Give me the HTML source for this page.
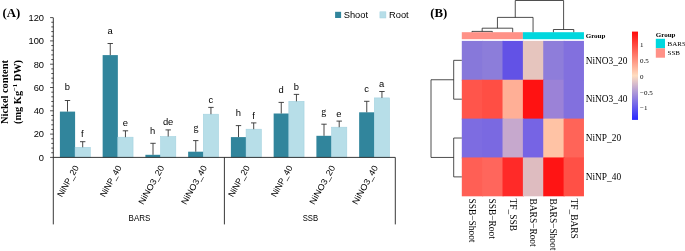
<!DOCTYPE html><html><head><meta charset="utf-8"><title>fig</title><style>html,body{margin:0;padding:0;background:#fff}svg{display:block;will-change:transform}text{font-family:"Liberation Sans",sans-serif;fill:#000}.s{font-family:"Liberation Serif",serif}</style></head><body>
<svg width="685" height="251" viewBox="0 0 685 251">
<rect width="685" height="251" fill="#fff"/>
<text class="s" x="2.5" y="16.8" font-size="12.8" font-weight="bold">(A)</text>
<text class="s" font-size="10.4" font-weight="bold" text-anchor="middle" transform="translate(8.2,92) rotate(-90)">Nickel content</text>
<text class="s" font-size="10.4" font-weight="bold" text-anchor="middle" transform="translate(21,92) rotate(-90)">(mg Kg<tspan font-size="6.5" dy="-4">−1</tspan><tspan dy="4"> DW)</tspan></text>
<rect x="59.90" y="111.6" width="15.2" height="45.80" fill="#31859c"/>
<rect x="75.10" y="147.3" width="15.2" height="10.10" fill="#b7dee8" stroke="#a3d2e0" stroke-width="0.6"/>
<path d="M67.50 111.6V100.5M64.80 100.5H70.20" stroke="#333" stroke-width="0.9" fill="none"/>
<path d="M82.70 147.3V141.7M80.00 141.7H85.40" stroke="#333" stroke-width="0.9" fill="none"/>
<rect x="102.65" y="55.1" width="15.2" height="102.30" fill="#31859c"/>
<rect x="117.85" y="137.2" width="15.2" height="20.20" fill="#b7dee8" stroke="#a3d2e0" stroke-width="0.6"/>
<path d="M110.25 55.1V43.5M107.55 43.5H112.95" stroke="#333" stroke-width="0.9" fill="none"/>
<path d="M125.45 137.2V130.8M122.75 130.8H128.15" stroke="#333" stroke-width="0.9" fill="none"/>
<rect x="145.40" y="154.8" width="15.2" height="2.60" fill="#31859c"/>
<rect x="160.60" y="136.5" width="15.2" height="20.90" fill="#b7dee8" stroke="#a3d2e0" stroke-width="0.6"/>
<path d="M153.00 154.8V143.3M150.30 143.3H155.70" stroke="#333" stroke-width="0.9" fill="none"/>
<path d="M168.20 136.5V129.9M165.50 129.9H170.90" stroke="#333" stroke-width="0.9" fill="none"/>
<rect x="188.15" y="151.7" width="15.2" height="5.70" fill="#31859c"/>
<rect x="203.35" y="114.2" width="15.2" height="43.20" fill="#b7dee8" stroke="#a3d2e0" stroke-width="0.6"/>
<path d="M195.75 151.7V140.6M193.05 140.6H198.45" stroke="#333" stroke-width="0.9" fill="none"/>
<path d="M210.95 114.2V107.4M208.25 107.4H213.65" stroke="#333" stroke-width="0.9" fill="none"/>
<rect x="230.90" y="137.1" width="15.2" height="20.30" fill="#31859c"/>
<rect x="246.10" y="129.2" width="15.2" height="28.20" fill="#b7dee8" stroke="#a3d2e0" stroke-width="0.6"/>
<path d="M238.50 137.1V125.6M235.80 125.6H241.20" stroke="#333" stroke-width="0.9" fill="none"/>
<path d="M253.70 129.2V122.9M251.00 122.9H256.40" stroke="#333" stroke-width="0.9" fill="none"/>
<rect x="273.65" y="113.5" width="15.2" height="43.90" fill="#31859c"/>
<rect x="288.85" y="101.3" width="15.2" height="56.10" fill="#b7dee8" stroke="#a3d2e0" stroke-width="0.6"/>
<path d="M281.25 113.5V102.4M278.55 102.4H283.95" stroke="#333" stroke-width="0.9" fill="none"/>
<path d="M296.45 101.3V94.4M293.75 94.4H299.15" stroke="#333" stroke-width="0.9" fill="none"/>
<rect x="316.40" y="135.8" width="15.2" height="21.60" fill="#31859c"/>
<rect x="331.60" y="127.2" width="15.2" height="30.20" fill="#b7dee8" stroke="#a3d2e0" stroke-width="0.6"/>
<path d="M324.00 135.8V124.2M321.30 124.2H326.70" stroke="#333" stroke-width="0.9" fill="none"/>
<path d="M339.20 127.2V121.1M336.50 121.1H341.90" stroke="#333" stroke-width="0.9" fill="none"/>
<rect x="359.15" y="112.3" width="15.2" height="45.10" fill="#31859c"/>
<rect x="374.35" y="97.9" width="15.2" height="59.50" fill="#b7dee8" stroke="#a3d2e0" stroke-width="0.6"/>
<path d="M366.75 112.3V101.3M364.05 101.3H369.45" stroke="#333" stroke-width="0.9" fill="none"/>
<path d="M381.95 97.9V91.5M379.25 91.5H384.65" stroke="#333" stroke-width="0.9" fill="none"/>
<text x="67.4" y="90.2" font-size="9.4" text-anchor="middle">b</text>
<text x="82.4" y="136.9" font-size="9.4" text-anchor="middle">f</text>
<text x="110" y="34" font-size="9.4" text-anchor="middle">a</text>
<text x="125.4" y="126.1" font-size="9.4" text-anchor="middle">e</text>
<text x="152.5" y="133.8" font-size="9.4" text-anchor="middle">h</text>
<text x="168.1" y="125.4" font-size="9.4" text-anchor="middle">de</text>
<text class="s" x="196" y="130.6" font-size="10" text-anchor="middle">g</text>
<text x="210.8" y="103.4" font-size="9.4" text-anchor="middle">c</text>
<text x="238.3" y="115.6" font-size="9.4" text-anchor="middle">h</text>
<text x="253.5" y="118.8" font-size="9.4" text-anchor="middle">f</text>
<text x="281.1" y="92.9" font-size="9.4" text-anchor="middle">d</text>
<text x="296.4" y="90.2" font-size="9.4" text-anchor="middle">b</text>
<text class="s" x="323.7" y="114.7" font-size="10" text-anchor="middle">g</text>
<text x="338.9" y="116.7" font-size="9.4" text-anchor="middle">e</text>
<text x="366.5" y="91.7" font-size="9.4" text-anchor="middle">c</text>
<text x="381.7" y="87.2" font-size="9.4" text-anchor="middle">a</text>
<path d="M53.3 17.8V224.4M53.3 157.4H395.3M224.4 157.4V224.4M395.3 157.4V224.4" stroke="#222" stroke-width="0.9" fill="none"/>
<path d="M50.1 157.40H53.3M51.3 152.74H53.3M51.3 148.08H53.3M51.3 143.42H53.3M51.3 138.76H53.3M50.1 134.10H53.3M51.3 129.44H53.3M51.3 124.78H53.3M51.3 120.12H53.3M51.3 115.46H53.3M50.1 110.80H53.3M51.3 106.14H53.3M51.3 101.48H53.3M51.3 96.82H53.3M51.3 92.16H53.3M50.1 87.50H53.3M51.3 82.84H53.3M51.3 78.18H53.3M51.3 73.52H53.3M51.3 68.86H53.3M50.1 64.20H53.3M51.3 59.54H53.3M51.3 54.88H53.3M51.3 50.22H53.3M51.3 45.56H53.3M50.1 40.90H53.3M51.3 36.24H53.3M51.3 31.58H53.3M51.3 26.92H53.3M51.3 22.26H53.3M50.1 17.60H53.3" stroke="#222" stroke-width="0.8" fill="none"/>
<text x="44" y="160.70" font-size="9.3" text-anchor="end">0</text>
<text x="44" y="137.40" font-size="9.3" text-anchor="end">20</text>
<text x="44" y="114.10" font-size="9.3" text-anchor="end">40</text>
<text x="44" y="90.80" font-size="9.3" text-anchor="end">60</text>
<text x="44" y="67.50" font-size="9.3" text-anchor="end">80</text>
<text x="44" y="44.20" font-size="9.3" text-anchor="end">100</text>
<text x="44" y="20.90" font-size="9.3" text-anchor="end">120</text>
<text font-size="8.7" text-anchor="end" transform="translate(79.08,167.6) rotate(-60.5)">NiNP_20</text>
<text font-size="8.7" text-anchor="end" transform="translate(121.83,167.6) rotate(-60.5)">NiNP_40</text>
<text font-size="8.7" text-anchor="end" textLength="43.2" lengthAdjust="spacingAndGlyphs" transform="translate(164.58,167.6) rotate(-60.5)">NiNO3_20</text>
<text font-size="8.7" text-anchor="end" textLength="43.2" lengthAdjust="spacingAndGlyphs" transform="translate(207.33,167.6) rotate(-60.5)">NiNO3_40</text>
<text font-size="8.7" text-anchor="end" transform="translate(250.08,167.6) rotate(-60.5)">NiNP_20</text>
<text font-size="8.7" text-anchor="end" transform="translate(292.82,167.6) rotate(-60.5)">NiNP_40</text>
<text font-size="8.7" text-anchor="end" textLength="43.2" lengthAdjust="spacingAndGlyphs" transform="translate(335.57,167.6) rotate(-60.5)">NiNO3_20</text>
<text font-size="8.7" text-anchor="end" textLength="43.2" lengthAdjust="spacingAndGlyphs" transform="translate(378.32,167.6) rotate(-60.5)">NiNO3_40</text>
<text x="139.5" y="221.2" font-size="9.6" text-anchor="middle" textLength="21.8" lengthAdjust="spacingAndGlyphs">BARS</text>
<text x="310.4" y="221.2" font-size="9.6" text-anchor="middle" textLength="15.4" lengthAdjust="spacingAndGlyphs">SSB</text>
<rect x="335.1" y="11.8" width="6" height="6.2" fill="#31859c"/>
<text x="343.7" y="18" font-size="9.3">Shoot</text>
<rect x="379.9" y="11.8" width="6" height="6.2" fill="#b7dee8" stroke="#a3d2e0" stroke-width="0.5"/>
<text x="389" y="18" font-size="9.3">Root</text>
<text class="s" x="430.3" y="16.8" font-size="12.8" font-weight="bold">(B)</text>
<rect x="461.80" y="40.90" width="21.36" height="39.85" fill="#8778DA"/>
<rect x="482.16" y="40.90" width="21.36" height="39.85" fill="#8C7DDA"/>
<rect x="502.52" y="40.90" width="21.36" height="39.85" fill="#6252E6"/>
<rect x="522.88" y="40.90" width="21.36" height="39.85" fill="#E6C5BE"/>
<rect x="543.24" y="40.90" width="21.36" height="39.85" fill="#8E7DDA"/>
<rect x="563.60" y="40.90" width="20.36" height="39.85" fill="#8270DE"/>
<rect x="461.80" y="79.75" width="21.36" height="39.85" fill="#FF554B"/>
<rect x="482.16" y="79.75" width="21.36" height="39.85" fill="#FF4E44"/>
<rect x="502.52" y="79.75" width="21.36" height="39.85" fill="#FFAF96"/>
<rect x="522.88" y="79.75" width="21.36" height="39.85" fill="#FF1212"/>
<rect x="543.24" y="79.75" width="21.36" height="39.85" fill="#9B82D7"/>
<rect x="563.60" y="79.75" width="20.36" height="39.85" fill="#8270DE"/>
<rect x="461.80" y="118.60" width="21.36" height="39.85" fill="#7D6CE1"/>
<rect x="482.16" y="118.60" width="21.36" height="39.85" fill="#7A69E1"/>
<rect x="502.52" y="118.60" width="21.36" height="39.85" fill="#C6A8CD"/>
<rect x="522.88" y="118.60" width="21.36" height="39.85" fill="#7664E4"/>
<rect x="543.24" y="118.60" width="21.36" height="39.85" fill="#FFC3A5"/>
<rect x="563.60" y="118.60" width="20.36" height="39.85" fill="#FF6458"/>
<rect x="461.80" y="157.45" width="21.36" height="38.85" fill="#FF5F55"/>
<rect x="482.16" y="157.45" width="21.36" height="38.85" fill="#FF665C"/>
<rect x="502.52" y="157.45" width="21.36" height="38.85" fill="#FF2A28"/>
<rect x="522.88" y="157.45" width="21.36" height="38.85" fill="#DEBCC0"/>
<rect x="543.24" y="157.45" width="21.36" height="38.85" fill="#FF1414"/>
<rect x="563.60" y="157.45" width="20.36" height="38.85" fill="#FF5046"/>
<rect x="461.8" y="32.2" width="61.08" height="7" fill="#FF9187"/>
<rect x="522.88" y="32.2" width="61.08" height="7" fill="#00D7DE"/>
<text class="s" x="585.7" y="38.3" font-size="7" font-weight="bold">Group</text>
<path d="M471.98 32.2V31.4H492.34V32.2M482.16 31.4V28.2H512.70V32.2M497.43 28.2V17.4H533.06V32.2M515.25 17.4V0.5H563.60V29.5M553.42 32.2V29.5H573.78V32.2M461.8 60.33H453.7V99.18H461.8M461.8 138.03H453.7V176.88H461.8M453.7 79.75H431V157.45H453.7" stroke="#222" stroke-width="0.8" fill="none"/>
<text class="s" x="585.7" y="63.53" font-size="9.4">NiNO3_20</text>
<text class="s" x="585.7" y="102.38" font-size="9.4">NiNO3_40</text>
<text class="s" x="585.7" y="141.22" font-size="9.4">NiNP_20</text>
<text class="s" x="585.7" y="180.07" font-size="9.4">NiNP_40</text>
<text class="s" font-size="9.4" transform="translate(468.98,198.6) rotate(90)">SSB−Shoot</text>
<text class="s" font-size="9.4" transform="translate(489.34,198.6) rotate(90)">SSB−Root</text>
<text class="s" font-size="9.4" transform="translate(509.70,198.6) rotate(90)">TF_SSB</text>
<text class="s" font-size="9.4" transform="translate(530.06,198.6) rotate(90)">BARS−Root</text>
<text class="s" font-size="9.4" transform="translate(550.42,198.6) rotate(90)">BARS−Shoot</text>
<text class="s" font-size="9.4" transform="translate(570.78,198.6) rotate(90)">TF_BARS</text>
<defs><linearGradient id="g" x1="0" y1="0" x2="0" y2="1"><stop offset="0" stop-color="#FF0A0A"/><stop offset="0.5" stop-color="#FFDDC0"/><stop offset="1" stop-color="#2828FF"/></linearGradient></defs>
<rect x="632" y="31.6" width="6" height="88.3" fill="url(#g)"/>
<text class="s" x="640" y="47.10" font-size="7">1</text>
<text class="s" x="640" y="62.90" font-size="7">0.5</text>
<text class="s" x="640" y="78.70" font-size="7">0</text>
<text class="s" x="640" y="94.50" font-size="7">−0.5</text>
<text class="s" x="640" y="110.30" font-size="7">−1</text>
<text class="s" x="655.8" y="36.6" font-size="7" font-weight="bold">Group</text>
<rect x="655.8" y="38.8" width="9.2" height="9.5" fill="#00D7DE"/>
<rect x="655.8" y="48.3" width="9.2" height="9.4" fill="#FF9187"/>
<text class="s" x="667.5" y="45.9" font-size="7">BARS</text>
<text class="s" x="667.5" y="55.4" font-size="7">SSB</text>
</svg></body></html>
